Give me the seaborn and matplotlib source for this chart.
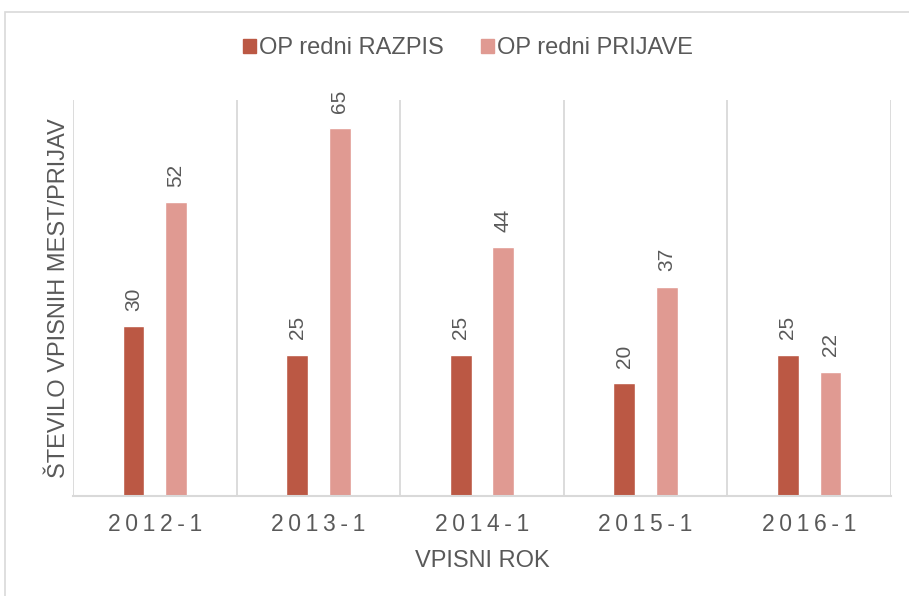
import pandas as pd
import matplotlib
matplotlib.use("Agg")
import matplotlib.pyplot as plt
from matplotlib.patches import Rectangle
import seaborn as sns

# data
years = ["2012-1", "2013-1", "2014-1", "2015-1", "2016-1"]
razpis = [30, 25, 25, 20, 25]
prijave = [52, 65, 44, 37, 22]
series_names = ["OP redni RAZPIS", "OP redni PRIJAVE"]

dark = "#BB5844"
light = "#E09A92"
txt = "#595959"
grid_c = "#D9D9D9"

df = pd.DataFrame({
    "rok": years * 2,
    "vrednost": razpis + prijave,
    "serija": [series_names[0]] * len(years) + [series_names[1]] * len(years),
})

sns.set_theme(style="white")
plt.rcParams["font.family"] = ["Liberation Sans", "DejaVu Sans"]

fig = plt.figure(figsize=(9.09, 5.96), dpi=100)
ax = fig.add_axes([73 / 909, 1 - 496 / 596, (891 - 73) / 909, (496 - 100) / 596])

sns.barplot(data=df, x="rok", y="vrednost", hue="serija", order=years,
            hue_order=series_names, palette=[dark, light], width=0.52, gap=0.485,
            ax=ax, legend=False, saturation=1)

for cont in ax.containers:
    ax.bar_label(cont, rotation=90, padding=11, fontsize=15, color=txt)

ax.set_xlim(-0.5, len(years) - 0.5)
ax.set_ylim(0, 70)
ax.set_yticks([])
ax.set_xticks(range(len(years)))
# letter-spaced tick labels like the original
ax.set_xticklabels(["\u2009".join(y) for y in years])
ax.set_xticks([i - 0.5 for i in range(len(years) + 1)], minor=True)
ax.grid(True, which="minor", axis="x", color=grid_c, linewidth=1.3)
ax.grid(False, which="major")
ax.tick_params(axis="x", which="both", length=0, pad=12, labelsize=16.5, labelcolor=txt)
for s in ["top", "right", "left"]:
    ax.spines[s].set_visible(False)
ax.spines["bottom"].set_color(grid_c)
ax.spines["bottom"].set_linewidth(1.5)

ax.set_xlabel("VPISNI ROK", fontsize=17, color=txt, labelpad=10)
ax.set_ylabel("ŠTEVILO VPISNIH MEST/PRIJAV", fontsize=17, color=txt, labelpad=2)

handles = [Rectangle((0, 0), 1, 1, color=dark), Rectangle((0, 0), 1, 1, color=light)]
fig.legend(handles, series_names, loc="center", bbox_to_anchor=(468 / 909, 1 - 48 / 596),
           ncol=2, frameon=False, fontsize=17, labelcolor=txt, handlelength=0.55,
           handleheight=0.55, handletextpad=0.12, columnspacing=1.6)

# outer chart border
fig.patches.append(Rectangle((5 / 909, -0.05), 1.1, 1 - 12 / 596 + 0.05,
                             transform=fig.transFigure, fill=False,
                             edgecolor=grid_c, linewidth=1.2))

fig.savefig("out.png", dpi=100)
